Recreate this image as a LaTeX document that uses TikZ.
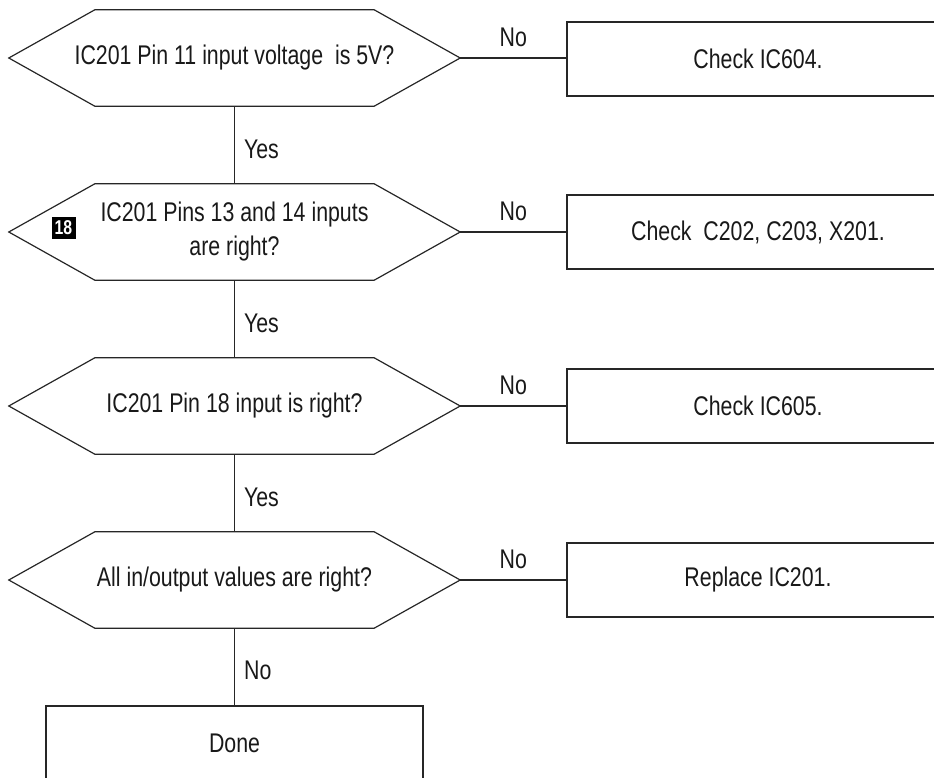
\documentclass[tikz,border=0pt]{standalone}
\usepackage{fontspec}
\setmainfont[FakeStretch=0.79]{Liberation Sans}
\begin{document}
\begin{tikzpicture}[x=1pt,y=-1pt,
  every node/.style={font=\fontsize{27}{34}\selectfont, text=black!90},
  hexnode/.style={minimum width=451pt, minimum height=96pt, inner sep=0pt, align=center},
  boxnode/.style={draw=black!85, line width=1.2pt, minimum width=382pt, minimum height=74pt, inner sep=0pt},
  conn/.style={line width=1.2pt, draw=black!85},
  nolbl/.style={above, inner sep=0pt, yshift=11pt},
  yeslbl/.style={right, inner sep=0pt, xshift=9pt, yshift=-4pt}]
\useasboundingbox (0,0) rectangle (934,778);
\clip (0,0) rectangle (934,778);

% decision hexagons (text holders)
\node[hexnode] (h1) at (234.5,58) {IC201 Pin 11 input voltage\ \ is 5V?};
\node[hexnode] (h2) at (234.5,232) {IC201 Pins 13 and 14 inputs\\are right?};
\node[hexnode] (h3) at (234.5,406) {IC201 Pin 18 input is right?};
\node[hexnode] (h4) at (234.5,580) {All in/output values are right?};

\foreach \n in {h1,h2,h3,h4}{
  \draw[conn] (\n.west) -- ([xshift=86pt]\n.north west) -- ([xshift=-86pt]\n.north east)
    -- (\n.east) -- ([xshift=-86pt]\n.south east) -- ([xshift=86pt]\n.south west) -- cycle;
}

% badge
\node[fill=black, text=white, font=\bfseries\fontsize{20}{20}\selectfont,
  minimum width=24pt, minimum height=22pt, inner sep=0pt] (badge) at (63.5,228) {18};

% action boxes
\node[boxnode] (b1) at (758,59) {Check IC604.};
\node[boxnode] (b2) at (758,232) {Check\ \ C202, C203, X201.};
\node[boxnode] (b3) at (758,406) {Check IC605.};
\node[boxnode] (b4) at (758,580) {Replace IC201.};
\node[boxnode, minimum width=377pt] (done) at (234.5,743) {Done};

% connectors
\draw[conn] (h1.east) -- node[nolbl] {No} (b1.west |- h1.east);
\draw[conn] (h2.east) -- node[nolbl] {No} (b2.west |- h2.east);
\draw[conn] (h3.east) -- node[nolbl] {No} (b3.west |- h3.east);
\draw[conn] (h4.east) -- node[nolbl] {No} (b4.west |- h4.east);

\draw[conn] (h1.south) -- node[yeslbl] {Yes} (h2.north);
\draw[conn] (h2.south) -- node[yeslbl] {Yes} (h3.north);
\draw[conn] (h3.south) -- node[yeslbl] {Yes} (h4.north);
\draw[conn] (h4.south) -- node[yeslbl] {No} (done.north);
\end{tikzpicture}
\end{document}
